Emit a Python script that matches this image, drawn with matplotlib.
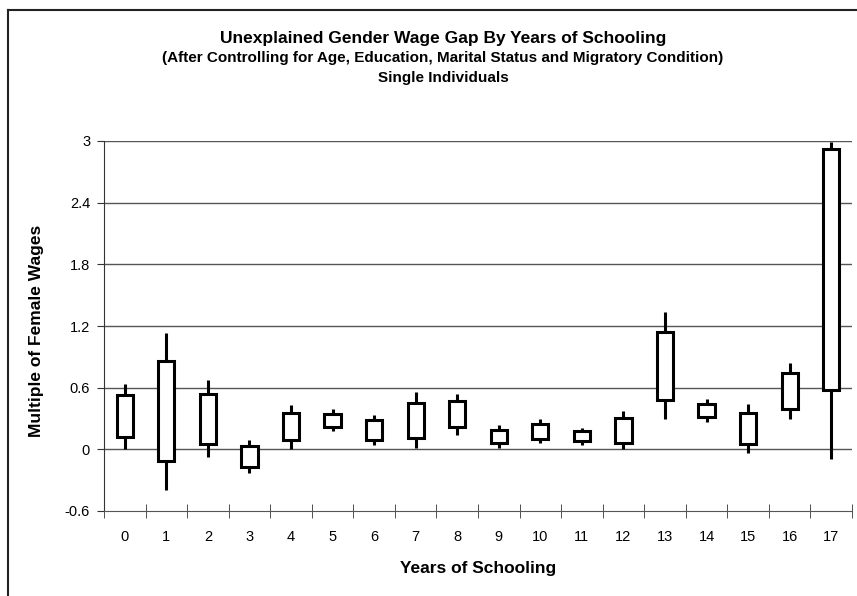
import matplotlib
matplotlib.use("Agg")
import matplotlib.pyplot as plt
from matplotlib.lines import Line2D
from matplotlib.patches import Rectangle

plt.rcParams['font.family'] = ['Liberation Sans', 'DejaVu Sans']

years = list(range(18))
high = [0.635, 1.131, 0.677, 0.091, 0.431, 0.392, 0.334, 0.554, 0.541,
        0.240, 0.292, 0.211, 0.376, 1.336, 0.486, 0.441, 0.843, 2.992]
box_top = [0.525, 0.856, 0.538, 0.029, 0.357, 0.344, 0.288, 0.454, 0.470,
           0.191, 0.246, 0.178, 0.305, 1.141, 0.441, 0.357, 0.742, 2.921]
box_bottom = [0.123, -0.117, 0.052, -0.175, 0.091, 0.214, 0.091, 0.107, 0.220,
              0.062, 0.104, 0.078, 0.062, 0.480, 0.311, 0.052, 0.395, 0.577]
low = [0.003, -0.392, -0.078, -0.230, 0.003, 0.182, 0.045, 0.013, 0.143,
       0.013, 0.058, 0.045, 0.003, 0.295, 0.263, -0.036, 0.292, -0.094]
yticks = [-0.6, 0, 0.6, 1.2, 1.8, 2.4, 3]
ytick_labels = ['-0.6', '0', '0.6', '1.2', '1.8', '2.4', '3']

fig = plt.figure(figsize=(8.57, 5.96), dpi=100)
ax = fig.add_axes([104/857, 1-511/596, (852-104)/857, (511-141)/596])

ax.set_xlim(-0.5, 17.5)
ax.set_ylim(-0.6, 3)

for y in yticks[1:]:
    ax.axhline(y, color='#555555', lw=1.0, zorder=1)

bw = 0.39
for x, h, bt, bb, l in zip(years, high, box_top, box_bottom, low):
    ax.plot([x, x], [bt, h], color='black', lw=2.2, zorder=3, solid_capstyle='butt')
    ax.plot([x, x], [l, bb], color='black', lw=2.2, zorder=3, solid_capstyle='butt')
    ax.add_patch(Rectangle((x - bw/2, bb), bw, bt - bb, facecolor='white',
                           edgecolor='black', lw=2.2, zorder=4))

ax.set_yticks(yticks)
ax.set_yticklabels(ytick_labels, fontsize=10.5)
ax.set_xticks(years)
ax.set_xticklabels([str(y) for y in years], fontsize=10.5)
ax.set_xticks([i - 0.5 for i in range(19)], minor=True)
ax.tick_params(axis='x', which='major', length=0, pad=14)
ax.tick_params(axis='x', which='minor', length=10, direction='inout', color='#333333')
ax.tick_params(axis='y', which='major', length=5, direction='out', color='#333333', pad=5)

for s in ['top', 'right']:
    ax.spines[s].set_visible(False)
ax.spines['left'].set_color('#333333')
ax.spines['bottom'].set_color('#555555')

fig.text(37/857, 1-331/596, 'Multiple of Female Wages', rotation=90,
         ha='center', va='center', fontsize=12.5, fontweight='bold')
fig.text(478/857, 1-569/596, 'Years of Schooling',
         ha='center', va='center', fontsize=12.5, fontweight='bold')

fig.text(443/857, 1-38/596, 'Unexplained Gender Wage Gap By Years of Schooling',
         ha='center', va='center', fontsize=12.5, fontweight='bold')
fig.text(443/857, 1-58/596, '(After Controlling for Age, Education, Marital Status and Migratory Condition)',
         ha='center', va='center', fontsize=11, fontweight='bold')
fig.text(443/857, 1-78/596, 'Single Individuals',
         ha='center', va='center', fontsize=11, fontweight='bold')

fig.add_artist(Line2D([8/857, 8/857], [0, 1-10/596], color='#222222', lw=1.5))
fig.add_artist(Line2D([8/857, 1], [1-10/596, 1-10/596], color='#222222', lw=1.5))

fig.savefig('out.png', dpi=100)
